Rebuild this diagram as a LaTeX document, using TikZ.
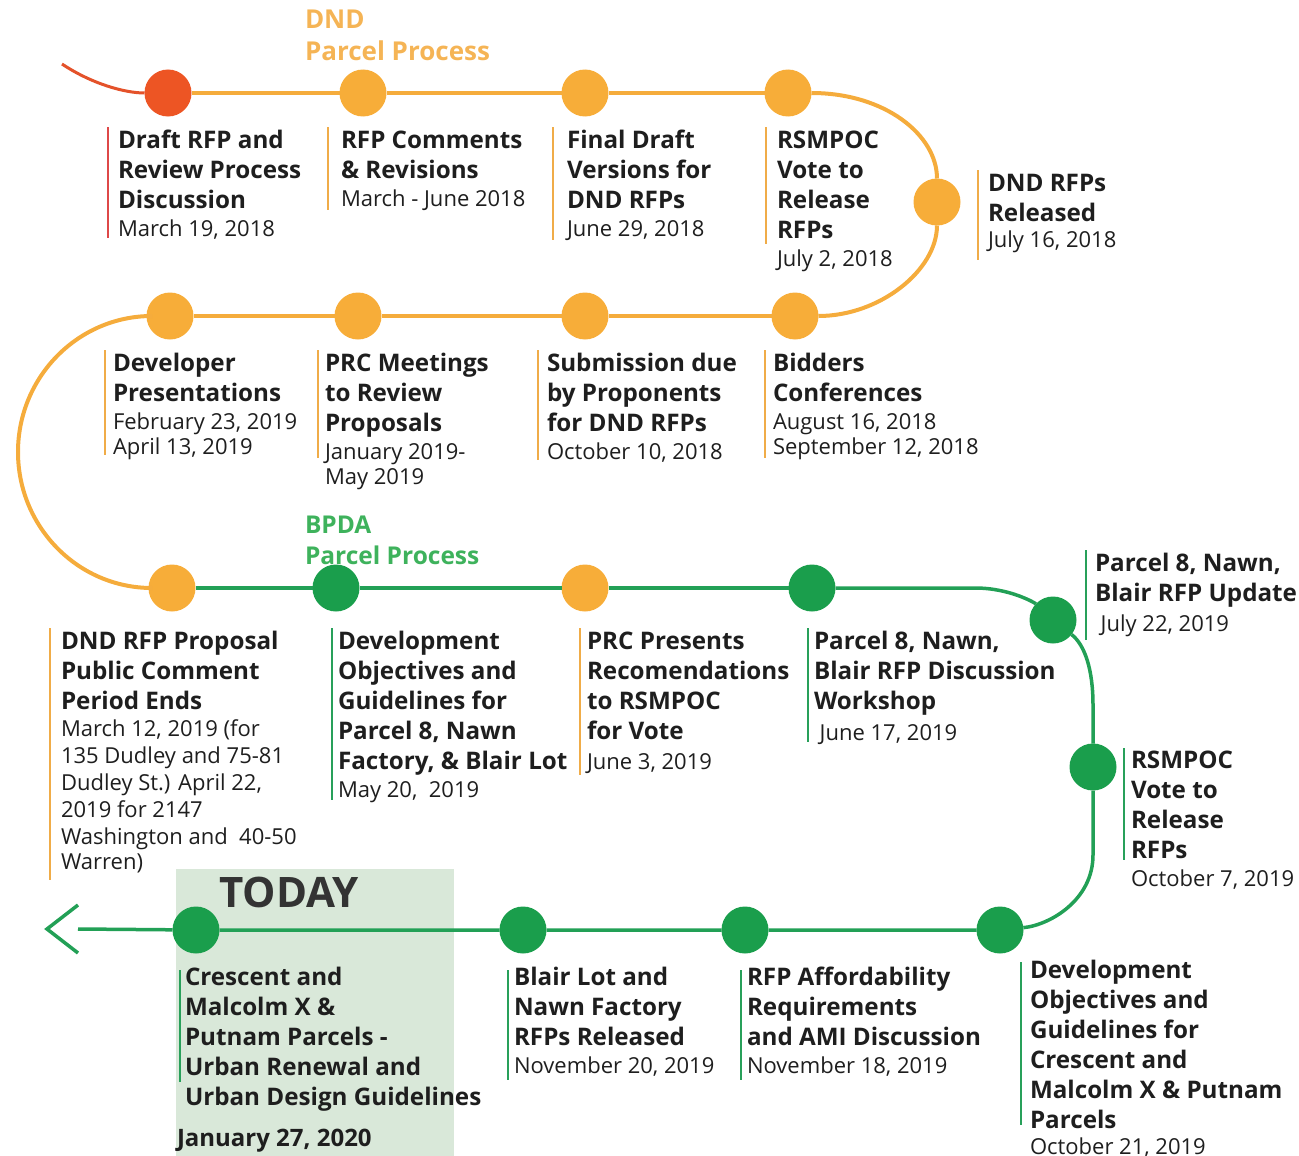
\documentclass[tikz,border=0pt]{standalone}
\usepackage{fontspec}
\setmainfont{Open Sans}
\definecolor{oline}{RGB}{245,172,60}
\definecolor{odot}{RGB}{247,173,57}
\definecolor{rdot}{RGB}{237,85,36}
\definecolor{rline}{RGB}{228,82,42}
\definecolor{rbar}{RGB}{222,72,72}
\definecolor{obar}{RGB}{240,172,72}
\definecolor{gdot}{RGB}{26,158,76}
\definecolor{gline}{RGB}{34,160,86}
\definecolor{gbar}{RGB}{40,160,90}
\definecolor{olab}{RGB}{245,180,85}
\definecolor{glab}{RGB}{62,178,92}
\definecolor{todayfill}{RGB}{217,232,217}
\definecolor{txt}{RGB}{30,30,30}
\newcommand\T[1]{\hbox{\bfseries\fontsize{24.2}{30}\selectfont #1}}
\newcommand\D[1]{\hbox{\fontsize{22}{25}\selectfont #1}}
\newcommand\sk[1]{\baselineskip=#1pt\relax}
\begin{document}
\begin{tikzpicture}[x=1pt,y=-1pt,
  dot/.style={circle, minimum size=47pt, inner sep=0pt, outer sep=0pt, draw=none},
  od/.style={dot, fill=odot},
  gd/.style={dot, fill=gdot},
  lbl/.style={anchor=base west, inner sep=0pt, outer sep=0pt, text=txt},
  ol/.style={draw=oline, line width=4pt},
  gl/.style={draw=gline, line width=3.5pt},
  barline/.style={line width=2.5pt}]
\useasboundingbox (0,0) rectangle (1299,1156);
\fill[todayfill] (176,869) rectangle (454,1156);

% dots
\node[dot, fill=rdot] (d1) at (168,93) {};
\node[od] (d2) at (363,93) {};
\node[od] (d3) at (585,93) {};
\node[od] (d4) at (788,93) {};
\node[od] (d5) at (937,202) {};
\node[od] (d6) at (795,316) {};
\node[od] (d7) at (585,316) {};
\node[od] (d8) at (358,316) {};
\node[od] (d9) at (170,316) {};
\node[od] (d10) at (172,588) {};
\node[gd] (d11) at (336,588) {};
\node[od] (d12) at (585,588) {};
\node[gd] (d13) at (812,588) {};
\node[gd] (d14) at (1053,620) {};
\node[gd] (d15) at (1093,767) {};
\node[gd] (d16) at (1000,930) {};
\node[gd] (d17) at (745,930) {};
\node[gd] (d18) at (523,930) {};
\node[gd] (d19) at (196,930) {};
\coordinate (st) at (62,64);
\coordinate (ae) at (78,929);
\coordinate (tip) at (47,929);

% connectors
\draw[draw=rline, line width=3pt] (st) .. controls (92,84) and (125,93) .. (d1);
\draw[ol] (d1) -- (d2) -- (d3) -- (d4);
\draw[ol] (d4) .. controls (885,93) and (937,135) .. (d5);
\draw[ol] (d5) .. controls (937,270) and (880,316) .. (d6);
\draw[ol] (d6) -- (d7) -- (d8) -- (d9);
\draw[ol] (d9) -- (152,316) .. controls (78,316) and (18,377) .. (18,452) .. controls (18,527) and (78,588) .. (152,588) -- (d10);
\draw[gl] (d10) -- (d11) -- (d12) -- (d13);
\draw[gl] (d13) -- (975,588) .. controls (1010,588) and (1035,603) .. (d14);
\draw[gl] (d14) .. controls (1085,645) and (1093,670) .. (1093,705) -- (d15);
\draw[gl] (d15) -- (1093,855) .. controls (1093,900) and (1050,925) .. (d16);
\draw[gl] (d16) -- (d17) -- (d18) -- (d19) -- (ae);
\draw[gl, line width=3.5pt] (tip) ++(31,-24) -- (tip) -- ++(31,24);

% section labels
\node[lbl, text=olab] (dnd) at (305,29) {\vtop{\bfseries\fontsize{26}{32}\selectfont\hbox{DND}\hbox{Parcel Process}}};
\node[lbl, text=glab] (bpda) at (305,533) {\vtop{\bfseries\fontsize{24.5}{31}\selectfont\hbox{BPDA}\hbox{Parcel Process}}};

% bars
\draw[barline, rbar] (108,127) -- (108,238);
\draw[barline, obar] (328,127) -- (328,210);
\draw[barline, obar] (553,127) -- (553,240);
\draw[barline, obar] (766,127) -- (766,244);
\draw[barline, obar] (978,170) -- (978,260);
\draw[barline, obar] (105,350) -- (105,455);
\draw[barline, obar] (318,350) -- (318,458);
\draw[barline, obar] (538,350) -- (538,460);
\draw[barline, obar] (765,350) -- (765,458);
\draw[barline, obar] (50,628) -- (50,880);
\draw[barline, gbar] (332,628) -- (332,800);
\draw[barline, obar] (580,628) -- (580,775);
\draw[barline, gbar] (808,628) -- (808,742);
\draw[barline, gbar] (1086,550) -- (1086,640);
\draw[barline, gbar] (1124,748) -- (1124,860);
\draw[barline, gbar] (180,970) -- (180,1082);
\draw[barline, gbar] (508,970) -- (508,1080);
\draw[barline, gbar] (741,970) -- (741,1080);
\draw[barline, gbar] (1021,962) -- (1021,1125);

% texts
\node[lbl] (tA) at (118,148) {\vtop{\sk{30}\T{Draft RFP and}\T{Review Process}\T{Discussion}\sk{28}\D{March 19, 2018}}};
\node[lbl] (tB) at (341,148) {\vtop{\sk{30}\T{RFP Comments}\T{\& Revisions}\sk{28}\D{March - June 2018}}};
\node[lbl] (tC) at (567,148) {\vtop{\sk{30}\T{Final Draft}\T{Versions for}\T{DND RFPs}\sk{28}\D{June 29, 2018}}};
\node[lbl] (tD) at (777,148) {\vtop{\sk{30}\T{RSMPOC}\T{Vote to}\T{Release}\T{RFPs}\sk{29}\D{July 2, 2018}}};
\node[lbl] (tE) at (988,191) {\vtop{\sk{30}\T{DND RFPs}\T{Released}\sk{26}\D{July 16, 2018}}};
\node[lbl] (tF) at (113,371) {\vtop{\sk{30}\T{Developer}\T{Presentations}\sk{28}\D{February 23, 2019}\sk{25}\D{April 13, 2019}}};
\node[lbl] (tG) at (325,371) {\vtop{\sk{30}\T{PRC Meetings}\T{to Review}\T{Proposals}\sk{28}\D{January 2019-}\sk{25}\D{May 2019}}};
\node[lbl] (tH) at (547,371) {\vtop{\sk{30}\T{Submission due}\T{by Proponents}\T{for DND RFPs}\sk{28}\D{October 10, 2018}}};
\node[lbl] (tI) at (773,371) {\vtop{\sk{30}\T{Bidders}\T{Conferences}\sk{28}\D{August 16, 2018}\sk{25}\D{September 12, 2018}}};
\node[lbl] (tJ) at (61,649) {\vtop{\sk{30}\T{DND RFP Proposal}\T{Public Comment}\T{Period Ends}\sk{27}\D{March 12, 2019 (for}\D{135 Dudley and 75-81}\D{Dudley St.) April 22,}\D{2019 for 2147}\D{Washington and \ 40-50}\sk{25}\D{Warren)}}};
\node[lbl] (tK) at (338,649) {\vtop{\sk{30}\T{Development}\T{Objectives and}\T{Guidelines for}\T{Parcel 8, Nawn}\T{Factory, \& Blair Lot}\sk{28}\D{May 20, \ 2019}}};
\node[lbl] (tL) at (587,649) {\vtop{\sk{30}\T{PRC Presents}\T{Recomendations}\T{to RSMPOC}\T{for Vote}\sk{30}\D{June 3, 2019}}};
\node[lbl] (tM) at (814,649) {\vtop{\sk{30}\T{Parcel 8, Nawn,}\T{Blair RFP Discussion}\T{Workshop}\sk{31}\D{\ June 17, 2019}}};
\node[lbl] (tN) at (1095,571) {\vtop{\sk{30}\T{Parcel 8, Nawn,}\T{Blair RFP Update}\sk{30}\D{\ July 22, 2019}}};
\node[lbl] (tO) at (1131,768) {\vtop{\sk{30}\T{RSMPOC}\T{Vote to}\T{Release}\T{RFPs}\sk{28}\D{October 7, 2019}}};
\node[lbl] (tP) at (185,985) {\vtop{\sk{30}\T{Crescent and}\T{Malcolm X \&}\T{Putnam Parcels -}\T{Urban Renewal and}\T{Urban Design Guidelines}}};
\node[lbl] (tPd) at (177,1146) {\bfseries\fontsize{24}{28}\selectfont January 27, 2020};
\node[lbl] (tQ) at (514,985) {\vtop{\sk{30}\T{Blair Lot and}\T{Nawn Factory}\T{RFPs Released}\sk{28}\D{November 20, 2019}}};
\node[lbl] (tR) at (747,985) {\vtop{\sk{30}\T{RFP Affordability}\T{Requirements}\T{and AMI Discussion}\sk{28}\D{November 18, 2019}}};
\node[lbl] (tS) at (1030,978) {\vtop{\sk{30}\T{Development}\T{Objectives and}\T{Guidelines for}\T{Crescent and}\T{Malcolm X \& Putnam}\T{Parcels}\sk{26}\D{October 21, 2019}}};
\node[text={rgb,255:red,51;green,51;blue,51}, inner sep=0pt] (today) at (289,892) {\bfseries\fontsize{42}{48}\selectfont TODAY};
\end{tikzpicture}
\end{document}
